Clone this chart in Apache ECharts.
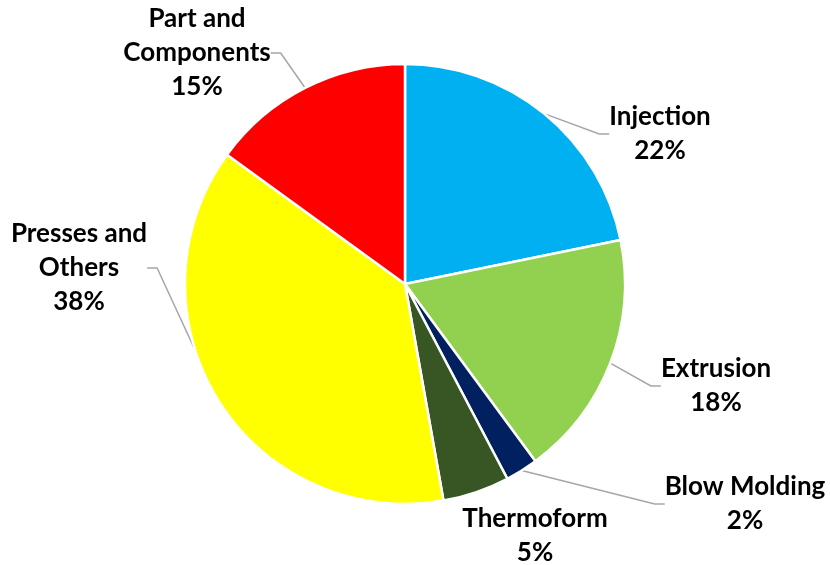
<!DOCTYPE html>
<html>
<head>
<meta charset="utf-8">
<script src="https://cdn.jsdelivr.net/npm/echarts@6/dist/echarts.min.js"></script>
<style>
html,body{margin:0;padding:0;background:#fff;}
#chart{width:830px;height:565px;}
</style>
</head>
<body>
<div id="chart"></div>
<script>
// Data
var categories = ['Injection', 'Extrusion', 'Blow Molding', 'Thermoform', 'Presses and\nOthers', 'Part and\nComponents'];
var values = [21.8, 18.1, 2.4, 4.9, 37.8, 15.0];

// Styling / layout (not data)
var colors = ['#00B0F0', '#92D050', '#002060', '#375623', '#FFFF00', '#FF0000'];
var labelPos = [[660, 134], [716, 386], [745, 504], [535, 536], [79, 268], [197, 53]];
var showLine = [true, true, true, false, true, true];

var chart = echarts.init(document.getElementById('chart'));
chart.setOption({
  animation: false,
  backgroundColor: '#ffffff',
  series: [{
    type: 'pie',
    center: [405, 284],
    radius: 220,
    startAngle: 90,
    clockwise: true,
    avoidLabelOverlap: false,
    itemStyle: { borderColor: '#ffffff', borderWidth: 2.5 },
    label: {
      show: true,
      position: 'outside',
      fontFamily: 'Lato',
      fontWeight: 'bold',
      fontSize: 26,
      lineHeight: 34,
      color: '#000000',
      align: 'center',
      formatter: function (p) { return p.name + '\n' + Math.round(p.percent) + '%'; }
    },
    labelLine: { show: true, length: 15, length2: 10, lineStyle: { color: '#A6A6A6', width: 1.5 } },
    labelLayout: function (p) {
      var pos = labelPos[p.dataIndex];
      return { x: pos[0], y: pos[1], align: 'center', verticalAlign: 'middle' };
    },
    emphasis: { disabled: true },
    data: categories.map(function (c, i) {
      return {
        name: c,
        value: values[i],
        itemStyle: { color: colors[i] },
        labelLine: { show: showLine[i] }
      };
    })
  }]
});
</script>
</body>
</html>
